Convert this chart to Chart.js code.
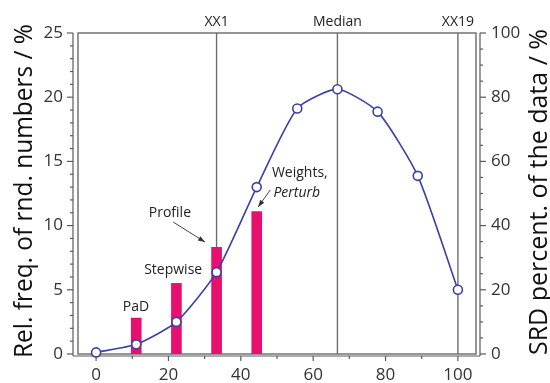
<!DOCTYPE html>
<html>
<head>
<meta charset="utf-8">
<script src="https://cdn.jsdelivr.net/npm/chart.js@4.4.1/dist/chart.umd.min.js"></script>
<style>
html, body { margin: 0; padding: 0; background: #fff; overflow: hidden; }
#wrap { width: 550px; height: 395px; }
</style>
</head>
<body>
<div id="wrap"><canvas id="chart"></canvas></div>
<script>
// Data
const xValues = [0, 11.1, 22.2, 33.3, 44.4, 55.6, 66.7, 77.8, 88.9, 100];
const srdValues = [0.5, 3, 10, 25.5, 52, 76.5, 82.5, 75.5, 55.5, 20];   // right axis, %
const barX = [11.1, 22.2, 33.3, 44.4];
const barValues = [2.8, 5.5, 8.3, 11.1];                                // left axis, %
const xTicks = [0, 20, 40, 60, 80, 100];
const leftTicks = [0, 5, 10, 15, 20, 25];
const rightTicks = [0, 20, 40, 60, 80, 100];
const markerX = [33.3, 66.7, 100];
const markerLabels = ['XX1', 'Median', 'XX19'];
const leftTitle = 'Rel. freq. of rnd. numbers / %';
const rightTitle = 'SRD percent. of the data / %';

const FONT = "'Open Sans', sans-serif";
const BLUE = '#3a40a6';
const PINK = '#e8106f';
const AXIS = '#5a5a5a';

function seg(ctx, x1, y1, x2, y2) {
    ctx.beginPath();
    ctx.moveTo(x1, y1);
    ctx.lineTo(x2, y2);
    ctx.stroke();
}

function arrow(ctx, x1, y1, x2, y2) {
    ctx.strokeStyle = '#444';
    ctx.fillStyle = '#333';
    ctx.lineWidth = 1;
    seg(ctx, x1, y1, x2, y2);
    const ang = Math.atan2(y2 - y1, x2 - x1);
    const len = 7, w = 2.5;
    ctx.beginPath();
    ctx.moveTo(x2, y2);
    ctx.lineTo(x2 - len * Math.cos(ang) + w * Math.sin(ang), y2 - len * Math.sin(ang) - w * Math.cos(ang));
    ctx.lineTo(x2 - len * Math.cos(ang) - w * Math.sin(ang), y2 - len * Math.sin(ang) + w * Math.cos(ang));
    ctx.closePath();
    ctx.fill();
}

// rotated title, squeezed along its length to the narrow face of the original
function vtitle(ctx, text, x, cy, size, len) {
    ctx.save();
    ctx.translate(x, cy);
    ctx.rotate(-Math.PI / 2);
    ctx.font = size + 'px ' + FONT;
    const w = ctx.measureText(text).width;
    ctx.scale(Math.min(1, len / w), 1);
    ctx.fillStyle = '#111';
    ctx.textAlign = 'center';
    ctx.textBaseline = 'alphabetic';
    ctx.fillText(text, 0, 0);
    ctx.restore();
}

// frame, offset spines, minor ticks, marker lines, axis titles
const decor = {
    id: 'decor',
    beforeDatasetsDraw(chart) {
        const { ctx, chartArea: a, scales } = chart;
        const x = scales.x, y = scales.y, y1 = scales.y1;
        ctx.save();

        // vertical marker lines + labels
        ctx.strokeStyle = '#6e6e6e';
        ctx.lineWidth = 1.4;
        ctx.fillStyle = '#222';
        ctx.font = '14px ' + FONT;
        ctx.textAlign = 'center';
        ctx.textBaseline = 'middle';
        markerX.forEach((v, i) => {
            const px = x.getPixelForValue(v);
            seg(ctx, px, a.top, px, a.bottom);
            ctx.fillText(markerLabels[i], px, a.top - 11);
        });

        // frame
        ctx.strokeStyle = '#6a6a6a';
        ctx.lineWidth = 1.4;
        ctx.strokeRect(a.left, a.top, a.right - a.left, a.bottom - a.top);

        // offset spines
        ctx.strokeStyle = AXIS;
        ctx.lineWidth = 1.2;
        const lx = a.left - 5, rx = a.right + 4, by = a.bottom + 2;
        seg(ctx, lx, a.top, lx, a.bottom + 2);
        seg(ctx, rx, a.top, rx, a.bottom + 2);
        seg(ctx, a.left - 5, by, a.right + 4, by);

        // left ticks: major every 5, minor every 1
        for (let v = 0; v <= 25; v += 1) {
            const py = y.getPixelForValue(v);
            seg(ctx, lx, py, lx - (v % 5 === 0 ? 6 : 3), py);
        }
        // right ticks: major every 20, minor every 5
        for (let v = 0; v <= 100; v += 5) {
            const py = y1.getPixelForValue(v);
            seg(ctx, rx, py, rx + (v % 20 === 0 ? 6 : 3), py);
        }
        // bottom ticks: major every 20, minor every 10
        for (let v = 0; v <= 100; v += 10) {
            const px = x.getPixelForValue(v);
            seg(ctx, px, by, px, by + (v % 20 === 0 ? 5 : 3));
        }

        // axis titles (both read bottom to top)
        vtitle(ctx, leftTitle, 32, 191, 25, 334);
        vtitle(ctx, rightTitle, 547, 192, 25, 326);
        ctx.restore();
    },
    afterDatasetsDraw(chart) {
        const { ctx, scales } = chart;
        const x = scales.x, y = scales.y;
        const P = (vx, vy) => [x.getPixelForValue(vx), y.getPixelForValue(vy)];
        ctx.save();
        ctx.fillStyle = '#222';
        ctx.font = '14px ' + FONT;
        ctx.textBaseline = 'middle';
        ctx.textAlign = 'center';
        let p = P(11.0, 3.66); ctx.fillText('PaD', p[0], p[1]);
        p = P(21.3, 6.54); ctx.fillText('Stepwise', p[0], p[1]);
        p = P(20.4, 11.0); ctx.fillText('Profile', p[0], p[1]);
        ctx.textAlign = 'left';
        p = P(48.6, 14.1); ctx.fillText('Weights,', p[0], p[1]);
        ctx.font = 'italic 14px ' + FONT;
        p = P(49.0, 12.5); ctx.fillText('Perturb', p[0], p[1]);

        let a1 = P(21.3, 10.28), a2 = P(30.1, 8.72);
        arrow(ctx, a1[0], a1[1], a2[0], a2[1]);
        a1 = P(48.1, 12.77); a2 = P(44.8, 11.45);
        arrow(ctx, a1[0], a1[1], a2[0], a2[1]);
        ctx.restore();
    }
};

const tickFont = { family: FONT, size: 17 };

new Chart(document.getElementById('chart'), {
    type: 'bar',
    data: {
        datasets: [
            {
                type: 'line',
                label: 'SRD',
                yAxisID: 'y1',
                data: xValues.map((v, i) => ({ x: v, y: srdValues[i] })),
                borderColor: BLUE,
                borderWidth: 1.6,
                tension: 0.2,
                pointRadius: 4.5,
                pointBackgroundColor: '#fff',
                pointBorderColor: BLUE,
                pointBorderWidth: 1.6,
                clip: false
            },
            {
                type: 'bar',
                label: 'Rel. freq.',
                yAxisID: 'y',
                data: barX.map((v, i) => ({ x: v, y: barValues[i] })),
                backgroundColor: PINK,
                barThickness: 10
            }
        ]
    },
    options: {
        responsive: true,
        maintainAspectRatio: false,
        animation: false,
        layout: { padding: { top: 33, left: 0, right: 0, bottom: 0 } },
        plugins: { legend: { display: false }, tooltip: { enabled: false } },
        scales: {
            x: {
                type: 'linear',
                min: -5, max: 105,
                offset: false,
                grid: { display: false, drawTicks: false },
                border: { display: false },
                afterBuildTicks: s => { s.ticks = xTicks.map(v => ({ value: v })); },
                afterFit: s => { s.height = 41; },
                ticks: { font: tickFont, color: '#333', padding: 11, maxRotation: 0 }
            },
            y: {
                position: 'left',
                min: 0, max: 25,
                grid: { display: false, drawTicks: false },
                border: { display: false },
                afterBuildTicks: s => { s.ticks = leftTicks.map(v => ({ value: v })); },
                afterFit: s => { s.width = 78; },
                ticks: { font: tickFont, color: '#333', padding: 15 }
            },
            y1: {
                position: 'right',
                min: 0, max: 100,
                grid: { display: false, drawTicks: false },
                border: { display: false },
                afterBuildTicks: s => { s.ticks = rightTicks.map(v => ({ value: v })); },
                afterFit: s => { s.width = 74; },
                ticks: { font: tickFont, color: '#333', padding: 15 }
            }
        }
    },
    plugins: [decor]
});
</script>
</body>
</html>
